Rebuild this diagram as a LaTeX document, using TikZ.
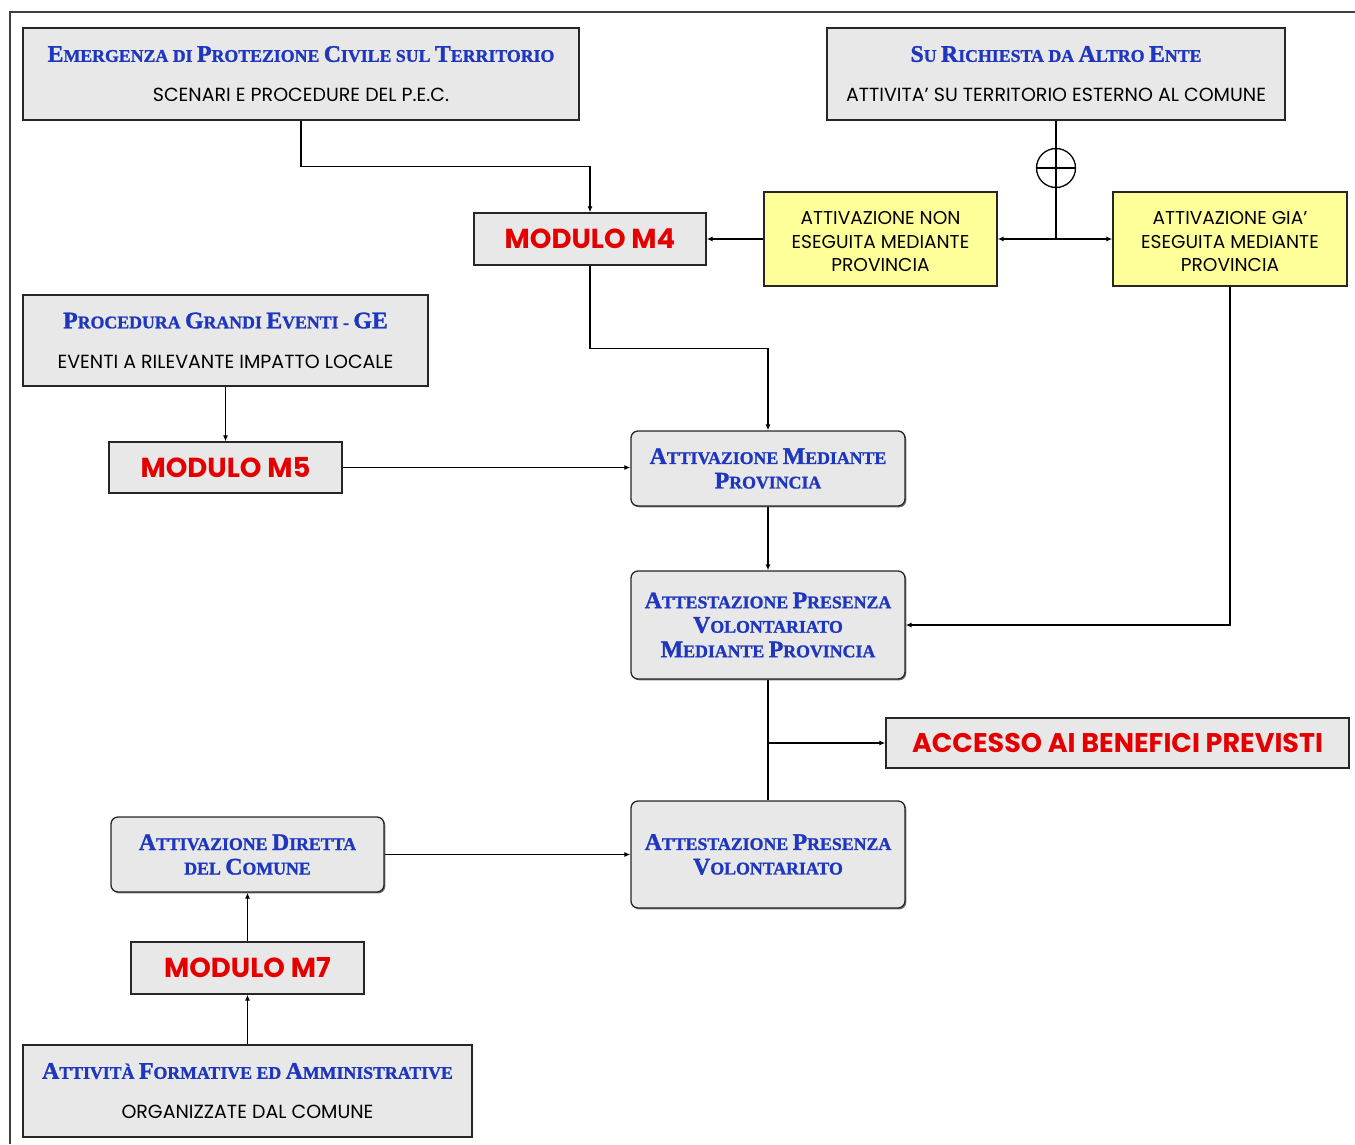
\documentclass[tikz,border=0pt]{standalone}
\usepackage{fontspec}
\setmainfont{Liberation Serif}[BoldFeatures={FakeBold=1.3}]
\setsansfont{Poppins}
\usetikzlibrary{arrows.meta,shadows}
\definecolor{hblue}{RGB}{30,55,190}
\definecolor{mred}{RGB}{228,0,0}
\definecolor{boxgray}{RGB}{232,232,232}
\definecolor{pyellow}{RGB}{255,255,153}
\newcommand\Cp[1]{{\fontsize{23.8}{23.8}\selectfont #1}}
\newcommand\subf{\sffamily\mdseries\fontsize{19}{20}\selectfont\color{black}}
\begin{document}
\begin{tikzpicture}[x=1pt,y=-1pt,
  base/.style={draw=black!85, line width=1.3pt, inner sep=0pt, align=center,
    drop shadow={shadow xshift=1.3pt, shadow yshift=-1.3pt, fill=black!55, opacity=1}},
  gbox/.style={base, fill=boxgray, rectangle},
  rbox/.style={base, fill=boxgray, rounded corners=7pt},
  ybox/.style={base, fill=pyellow, font=\sffamily\fontsize{18.6}{23.5}\selectfont},
  htitle/.style={font=\rmfamily\bfseries\fontsize{17.8}{40}\selectfont, text=hblue},
  rtitle/.style={font=\rmfamily\bfseries\fontsize{17.8}{24.5}\selectfont, text=hblue},
  modf/.style={font=\sffamily\bfseries\fontsize{27.5}{27.5}\selectfont, text=mred},
  conn/.style={line width=1.4pt, draw=black},
  arr/.style={conn, -{Latex[length=6pt,width=5pt]}}
]
\useasboundingbox (0,0) rectangle (1355,1144);
\fill[white] (0,0) rectangle (1355,1144);
\draw[line width=2pt, black!75] (10,1144) -- (10,12) -- (1355,12);

% boxes
\node[gbox, htitle, minimum width=556pt, minimum height=92pt] (emerg) at (301,74)
  {\Cp{E}MERGENZA DI \Cp{P}ROTEZIONE \Cp{C}IVILE SUL \Cp{T}ERRITORIO\\{\subf SCENARI E PROCEDURE DEL P.E.C.}};
\node[gbox, htitle, minimum width=458pt, minimum height=92pt] (rich) at (1056,74)
  {\Cp{S}U \Cp{R}ICHIESTA DA \Cp{A}LTRO \Cp{E}NTE\\{\subf ATTIVITA' SU TERRITORIO ESTERNO AL COMUNE}};
\node[gbox, modf, minimum width=232pt, minimum height=52pt] (m4) at (590,239) {MODULO M4};
\node[ybox, minimum width=233pt, minimum height=94pt] (non) at (880.5,239)
  {\rule{0pt}{19pt}ATTIVAZIONE NON\\ESEGUITA MEDIANTE\\PROVINCIA};
\node[ybox, minimum width=234pt, minimum height=94pt] (gia) at (1230,239)
  {\rule{0pt}{19pt}ATTIVAZIONE GIA'\\ESEGUITA MEDIANTE\\PROVINCIA};
\node[gbox, htitle, minimum width=405pt, minimum height=91pt] (proc) at (225.5,340.5)
  {\Cp{P}ROCEDURA \Cp{G}RANDI \Cp{E}VENTI - \Cp{GE}\\{\subf EVENTI A RILEVANTE IMPATTO LOCALE}};
\node[gbox, modf, minimum width=233pt, minimum height=51pt] (m5) at (225.5,467.5) {MODULO M5};
\node[rbox, rtitle, minimum width=274pt, minimum height=75pt] (amp) at (768,468.5)
  {\Cp{A}TTIVAZIONE \Cp{M}EDIANTE\\\Cp{P}ROVINCIA};
\node[rbox, rtitle, minimum width=274pt, minimum height=108pt] (apvmp) at (768,625)
  {\Cp{A}TTESTAZIONE \Cp{P}RESENZA\\\Cp{V}OLONTARIATO\\\Cp{M}EDIANTE \Cp{P}ROVINCIA};
\node[gbox, modf, font=\sffamily\bfseries\fontsize{27}{27}\selectfont, minimum width=463pt, minimum height=50pt] (acc) at (1117.5,743) {ACCESSO AI BENEFICI PREVISTI};
\node[rbox, rtitle, minimum width=274pt, minimum height=107pt] (apv) at (768,854.5)
  {\Cp{A}TTESTAZIONE \Cp{P}RESENZA\\\Cp{V}OLONTARIATO};
\node[rbox, rtitle, minimum width=273pt, minimum height=75pt] (adc) at (247.5,854.5)
  {\Cp{A}TTIVAZIONE \Cp{D}IRETTA\\DEL \Cp{C}OMUNE};
\node[gbox, modf, minimum width=233pt, minimum height=52pt] (m7) at (247.5,968) {MODULO M7};
\node[gbox, htitle, minimum width=449pt, minimum height=92pt] (af) at (247.5,1091)
  {\Cp{A}TTIVITÀ \Cp{F}ORMATIVE ED \Cp{A}MMINISTRATIVE\\{\subf ORGANIZZATE DAL COMUNE}};

% circle-plus
\node[circle, draw, line width=1.3pt, minimum size=39pt, inner sep=0pt] (xor) at (1056,168) {};
\draw[conn] (xor.north) -- (xor.south);
\draw[conn] (xor.west) -- (xor.east);
\coordinate (j) at (1056,239);

% connectors
\draw[arr] (emerg.south) -- ++(0,46) -| (m4.north);
\draw[conn] (rich.south) -- (xor.north);
\draw[conn] (xor.south) -- (j);
\draw[arr] (j) -- (non.east);
\draw[arr] (j) -- (gia.west);
\draw[arr] (non.west) -- (m4.east);
\draw[arr] (m4.south) -- ++(0,83) -| (amp.north);
\draw[arr] (proc.south) -- (m5.north);
\draw[arr] (m5.east) -- (m5.east -| amp.west);
\draw[arr] (amp.south) -- (apvmp.north);
\draw[arr] (gia.south) |- (apvmp.east);
\draw[conn] (apvmp.south) -- (apv.north);
\draw[arr] (apvmp.south |- acc.west) -- (acc.west);
\draw[arr] (adc.east) -- (adc.east -| apv.west);
\draw[arr] (m7.north) -- (adc.south);
\draw[arr] (af.north) -- (m7.south);
\end{tikzpicture}
\end{document}
